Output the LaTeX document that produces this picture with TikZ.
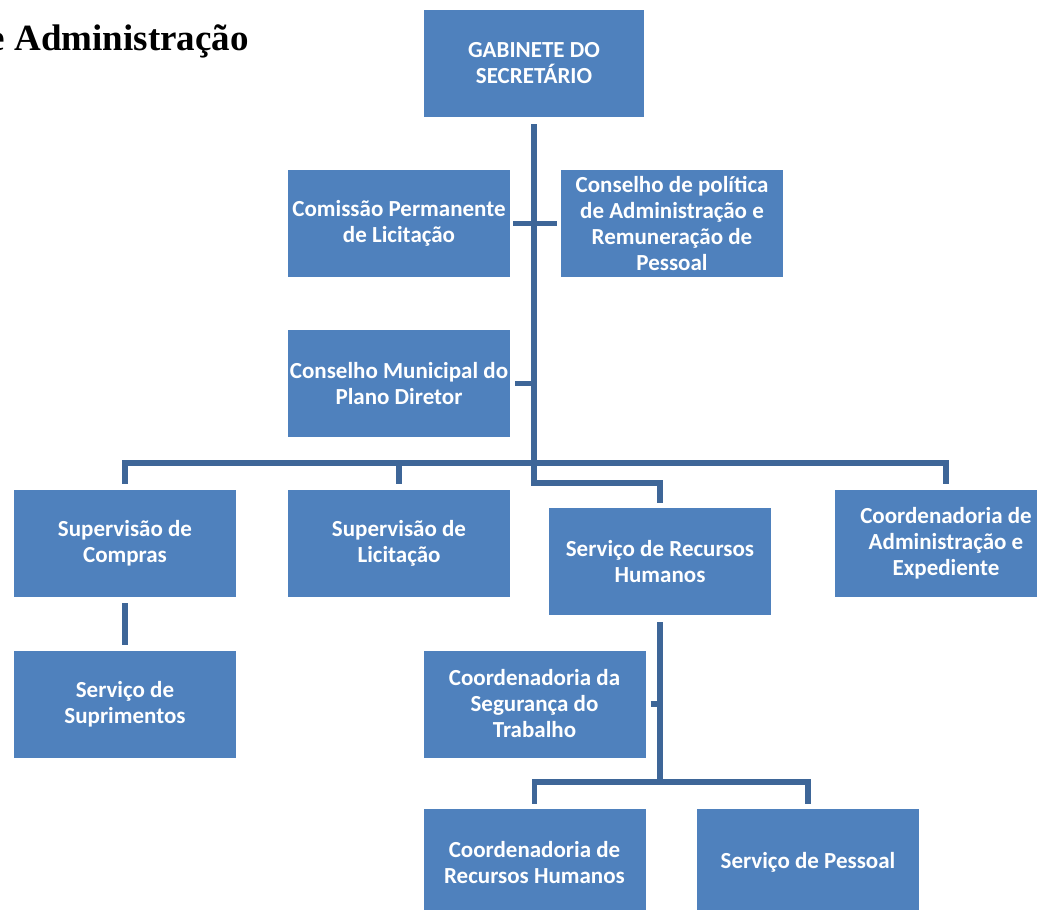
\documentclass[tikz,border=0pt]{standalone}
\usepackage{fontspec}
\setmainfont{Carlito}
\newfontfamily\titlefont{Liberation Serif}
\definecolor{boxblue}{RGB}{79,129,189}
\definecolor{lineblue}{RGB}{62,102,152}
\begin{document}
\begin{tikzpicture}[x=1pt,y=-1pt,
  unit/.style={fill=boxblue, text=white, minimum width=222pt, minimum height=107pt,
    inner sep=0pt, align=center, font=\fontsize{23}{26}\selectfont\bfseries},
  link/.style={draw=lineblue, line width=5.5pt}]
\useasboundingbox (0,0) rectangle (1037,910);
\clip (0,0) rectangle (1037,910);

% heading
\node[anchor=base east, inner sep=0pt, font=\titlefont\bfseries\fontsize{37}{40}\selectfont]
  (title) at (249,50) {e Administração};

% units
\node[unit, minimum width=220pt] (gab) at (534,63.5) {GABINETE DO\\SECRETÁRIO};
\node[unit] (com)  at (399,223.5) {Comissão Permanente\\de Licitação};
\node[unit] (cpol) at (672,223.5) {Conselho de política\\de Administração e\\Remuneração de\\Pessoal};
\node[unit] (cmun) at (399,383.5) {Conselho Municipal do\\Plano Diretor};
\node[unit] (supc) at (125,543.5) {Supervisão de\\Compras};
\node[unit] (supl) at (399,543.5) {Supervisão de\\Licitação};
\node[unit] (srh)  at (660,561.5) {Serviço de Recursos\\Humanos};
\node[unit] (cae)  at (946,543.5) {Coordenadoria de\\Administração e\\Expediente};
\node[unit] (sup)  at (125,704) {Serviço de\\Suprimentos};
\node[unit] (cseg) at (534.5,704) {Coordenadoria da\\Segurança do\\Trabalho};
\node[unit] (crh)  at (534.5,862.5) {Coordenadoria de\\Recursos Humanos};
\node[unit] (spes) at (808,862.5) {Serviço de Pessoal};

% junction points
\coordinate (bus)  at (536,463);
\coordinate (bend) at (536,483);
\coordinate (fork) at (660,782);

% connectors
\draw[link] ([yshift=-7pt]gab.south) -- (gab.south |- bend) -| ([yshift=5pt]srh.north);
\draw[link] ([xshift=3pt]com.east) -- ([xshift=-4pt]cpol.west);
\draw[link] ([xshift=5pt]cmun.east) -- (cmun.east -| gab.south);
\draw[link] ([yshift=6pt]supc.north) |- (bus) -| ([yshift=6pt]cae.north);
\draw[link] ([yshift=6pt]supl.north) -- (supl.north |- bus);
\draw[link] ([yshift=-6pt]supc.south) -- ([yshift=5pt]sup.north);
\draw[link] ([yshift=-7pt]srh.south) -- (srh.south |- fork);
\draw[link] ([yshift=5pt]crh.north) |- (fork) -| ([yshift=5pt]spes.north);
\draw[link] ([xshift=5pt]cseg.east) -- (cseg.east -| srh.south);
\end{tikzpicture}
\end{document}
